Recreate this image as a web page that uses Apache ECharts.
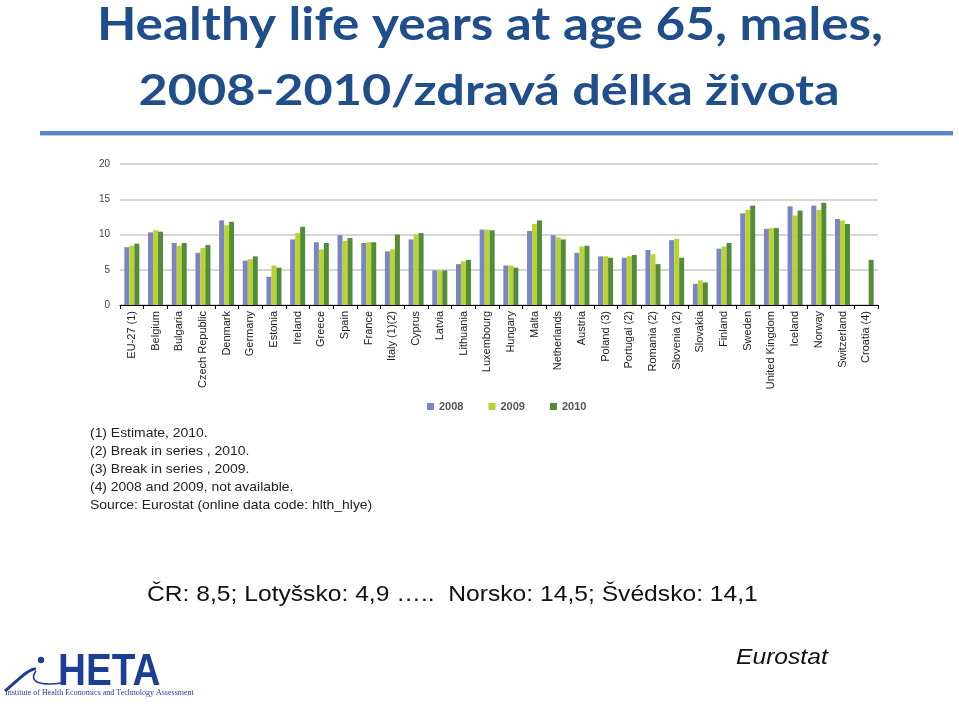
<!DOCTYPE html>
<html>
<head>
<meta charset="utf-8">
<script src="https://cdn.jsdelivr.net/npm/echarts@6/dist/echarts.min.js"></script>
<style>html,body{margin:0;padding:0;background:#fff}#c{width:959px;height:704px}</style>
</head>
<body>
<div id="c"></div>
<script>
const categories = ["EU-27 (1)","Belgium","Bulgaria","Czech Republic","Denmark","Germany","Estonia","Ireland","Greece","Spain","France","Italy (1)(2)","Cyprus","Latvia","Lithuania","Luxembourg","Hungary","Malta","Netherlands","Austria","Poland (3)","Portugal (2)","Romania (2)","Slovenia (2)","Slovakia","Finland","Sweden","United Kingdom","Iceland","Norway","Switzerland","Croatia (4)"];
const v2008 = [8.2,10.3,8.8,7.4,12.0,6.3,4.0,9.3,8.9,9.9,8.8,7.6,9.3,4.9,5.8,10.7,5.6,10.5,9.9,7.4,6.9,6.7,7.8,9.2,3.0,8.0,13.0,10.8,14.0,14.1,12.2,null];
const v2009 = [8.4,10.6,8.4,8.1,11.3,6.5,5.6,10.2,7.9,9.1,8.9,7.9,10.0,4.9,6.2,10.7,5.6,11.5,9.6,8.3,6.9,6.9,7.2,9.4,3.5,8.3,13.5,10.9,12.7,13.5,12.0,null];
const v2010 = [8.7,10.4,8.8,8.5,11.8,6.9,5.3,11.1,8.8,9.5,8.9,10.0,10.2,4.9,6.4,10.6,5.3,12.0,9.3,8.4,6.7,7.1,5.8,6.7,3.2,8.8,14.1,10.9,13.4,14.5,11.5,6.4];
const seriesNames = ["2008","2009","2010"];
const yTicks = {min:0,max:20,interval:5};
const footnotes = ["(1) Estimate, 2010.","(2) Break in series , 2010.","(3) Break in series , 2009.","(4) 2008 and 2009, not available.","Source: Eurostat (online data code: hlth_hlye)"];
const titleLines = ["Healthy life years at age 65, males,","2008-2010/zdravá délka života"];
const summaryText = "ČR: 8,5; Lotyšsko: 4,9 …..  Norsko: 14,5; Švédsko: 14,1";

const colors = ["#7b85c4","#b9d432","#528c3b"];
const chart = echarts.init(document.getElementById('c'));
const titleColor = "#1f4e8b";
const logoColor = "#1c3f94";

const graphics = [
  {type:'text',x:490,y:3,scaleX:1.14,style:{text:titleLines[0],x:0,y:0,align:'center',font:'bold 45px Lato',fill:titleColor},z:10},
  {type:'text',x:489,y:70,scaleX:1.2,style:{text:titleLines[1],x:0,y:0,align:'center',font:'bold 42px Lato',fill:titleColor},z:10},
  {type:'rect',shape:{x:40,y:131,width:913,height:4},style:{fill:'#5a87c6'}},
  {type:'rect',shape:{x:40,y:135,width:913,height:1},style:{fill:'#b9c9e4'}},
  {type:'text',x:147,y:584,scaleX:1.12,style:{text:summaryText,x:0,y:0,font:'22px "Liberation Sans"',fill:'#111'}},
  {type:'text',x:736,y:647,scaleX:1.12,style:{text:'Eurostat',x:0,y:0,font:'italic 22px "Liberation Sans"',fill:'#111'}},
  {type:'text',x:58,y:650,scaleX:0.86,style:{text:'HETA',x:0,y:0,font:'bold 45px "Liberation Sans"',fill:logoColor}},
  {type:'circle',shape:{cx:41,cy:660,r:3.2},style:{fill:logoColor}},
  {type:'bezierCurve',shape:{x1:5,y1:691,x2:36,y2:669,cpx1:20,cpy1:678,cpx2:30,cpy2:668},style:{stroke:logoColor,lineWidth:3,fill:null}},
  {type:'bezierCurve',shape:{x1:36,y1:671,x2:62,y2:683,cpx1:28,cpy1:682,cpx2:40,cpy2:686},style:{stroke:logoColor,lineWidth:1.6,fill:null}},
  {type:'text',x:5,y:689,style:{text:'Institute of Health Economics and Technology Assessment',x:0,y:0,font:'8px "Liberation Serif"',fill:logoColor}}
];
footnotes.forEach((t,i)=>{
  graphics.push({type:'text',x:90,y:427+i*18,scaleX:1.07,style:{text:t,x:0,y:0,font:'13px "Liberation Sans"',fill:'#222'}});
});

chart.setOption({
  backgroundColor:'#fff',
  animation:false,
  color:colors,
  legend:{data:seriesNames,left:422,top:396,itemWidth:7,itemHeight:7,itemGap:25,icon:'rect',
    textStyle:{fontSize:11,fontWeight:'bold',color:'#555',fontFamily:'Liberation Sans'}},
  grid:{left:120,right:81,top:164,bottom:399,containLabel:false},
  xAxis:{type:'category',data:categories,
    axisLine:{lineStyle:{color:'#000',width:1}},
    axisTick:{show:true,length:4,lineStyle:{color:'#000'}},
    axisLabel:{rotate:90,interval:0,fontSize:11,color:'#222',fontFamily:'Liberation Sans',margin:6}},
  yAxis:{type:'value',min:yTicks.min,max:yTicks.max,interval:yTicks.interval,
    axisLine:{show:false},axisTick:{show:false},
    splitLine:{lineStyle:{color:'#c8c8c8',width:1.5}},
    axisLabel:{fontSize:10,color:'#444',fontFamily:'Liberation Sans',margin:10}},
  series:[
    {name:seriesNames[0],type:'bar',data:v2008,barWidth:5,barGap:'0%'},
    {name:seriesNames[1],type:'bar',data:v2009,barWidth:5,barGap:'0%'},
    {name:seriesNames[2],type:'bar',data:v2010,barWidth:5,barGap:'0%'}
  ],
  graphic:graphics
});
</script>
</body>
</html>
